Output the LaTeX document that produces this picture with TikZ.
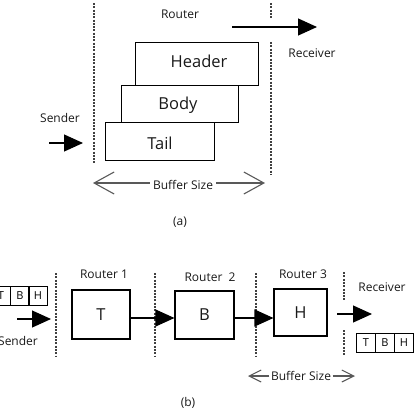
\documentclass[tikz,border=0pt]{standalone}
\usepackage{fontspec}
\setmainfont{Open Sans}
\usetikzlibrary{arrows.meta}
\begin{document}
\begin{tikzpicture}[x=1pt,y=-1pt,
  sep/.style={draw=black!75, line width=1.4pt, dash pattern=on 2pt off 1.3pt},
  pkt/.style={draw=black, line width=1.1pt, inner sep=0pt, anchor=north west},
  lbl/.style={font=\fontsize{12}{14}\selectfont, text=black!90, inner sep=0pt},
  big/.style={font=\fontsize{16.5}{18}\selectfont, text=black!90},
  cell/.style={draw=black, line width=0.9pt, minimum width=19pt, minimum height=19pt, inner sep=0pt, font=\fontsize{11}{12}\selectfont, anchor=north west},
  flow/.style={line width=1.1pt, -{Triangle[length=19pt,width=17pt]}},
  bufa/.style={draw=black!65, line width=1.1pt, -{Straight Barb[length=20pt,width=22pt,line width=1.1pt]}},
  bufb/.style={draw=black!65, line width=1.1pt, -{Straight Barb[length=12pt,width=12pt,line width=1.1pt]}}
]
\useasboundingbox (0,0) rectangle (418,410);
% ---------- (a) ----------
\coordinate (sa1) at (94,3); \coordinate (sa2) at (94,163);
\coordinate (sb1) at (271,3); \coordinate (sb2) at (271,18);
\coordinate (sb3) at (271,42); \coordinate (sb4) at (271,175);
\draw[sep] (sa1) -- (sa2);
\draw[sep] (sb1) -- (sb2);
\draw[sep] (sb3) -- (sb4);
\node[lbl] (routerA) at (180,14) {Router};
\node[lbl] (recvA) at (312,53) {Receiver};
\node[lbl] (sendA) at (60,118) {Sender};
\node[pkt, minimum width=123pt, minimum height=43pt] (header) at (135,42) {};
\node[big] at (199,61) {Header};
\node[pkt, minimum width=117pt, minimum height=37pt] (body) at (121,85) {};
\node[big] at (178,105) {Body};
\node[pkt, minimum width=109pt, minimum height=38pt] (tail) at (105,122) {};
\node[big] at (160,143) {Tail};
\coordinate (outA1) at (232,27); \coordinate (outA2) at (317,27);
\draw[flow] (outA1) -- (outA2);
\coordinate (inA1) at (49,143); \coordinate (inA2) at (83,143);
\draw[flow] (inA1) -- (inA2);
\node[lbl, inner xsep=3pt] (bufA) at (183,185) {Buffer Size};
\coordinate (bufAl) at (93,183); \coordinate (bufAr) at (265,183);
\draw[bufa] (bufA.west |- bufAl) -- (bufAl);
\draw[bufa] (bufA.east |- bufAr) -- (bufAr);
\node[lbl] (capA) at (180,222) {(a)};
% ---------- (b) ----------
\coordinate (d11) at (56,273); \coordinate (d12) at (56,356);
\coordinate (d21) at (155,273); \coordinate (d22) at (155,356);
\coordinate (d31) at (256,273); \coordinate (d32) at (256,356);
\coordinate (d41) at (344,272); \coordinate (d42) at (344,300);
\coordinate (d43) at (344,330); \coordinate (d44) at (344,356);
\draw[sep] (d11) -- (d12);
\draw[sep] (d21) -- (d22);
\draw[sep] (d31) -- (d32);
\draw[sep] (d41) -- (d42);
\draw[sep] (d43) -- (d44);
\node[lbl] (r1) at (104,274) {Router 1};
\node[lbl] (r2) at (210,277) {Router\ \ 2};
\node[lbl] (r3) at (303,274) {Router 3};
\node[lbl] (recvB) at (382,287) {Receiver};
\node[lbl] (sendB) at (18,341) {Sender};
\node[pkt, minimum width=58pt, minimum height=49pt, big, anchor=center] (bT) at (101,314.5) {T};
\node[pkt, minimum width=59pt, minimum height=48pt, big, anchor=center] (bB) at (204.5,315) {B};
\node[pkt, minimum width=53pt, minimum height=47pt, big, anchor=center] (bH) at (300.5,312.5) {H};
% sender packet
\node[cell] (sT) at (-9,286) {T};
\node[cell] (sB) at (10,286) {B};
\node[cell] (sH) at (28,286) {H};
% receiver packet
\node[cell] (rT) at (356,333) {T};
\node[cell] (rB) at (375,333) {B};
\node[cell] (rH) at (394,333) {H};
\coordinate (a1s) at (17,319); \coordinate (a1e) at (51,319);
\draw[flow] (a1s) -- (a1e);
\draw[flow] (bT.east |- 0,318) -- (bB.west |- 0,318);
\draw[flow] (bB.east |- 0,318) -- (bH.west |- 0,318);
\coordinate (a4s) at (337,314); \coordinate (a4e) at (372,314);
\draw[flow] (a4s) -- (a4e);
\node[lbl, inner xsep=1.5pt] (bufB) at (301,376) {Buffer Size};
\coordinate (bufBl) at (248,376); \coordinate (bufBr) at (355,376);
\draw[bufb] (bufB.west) -- (bufBl);
\draw[bufb] (bufB.east) -- (bufBr);
\node[lbl] (capB) at (188,403) {(b)};
\end{tikzpicture}
\end{document}
